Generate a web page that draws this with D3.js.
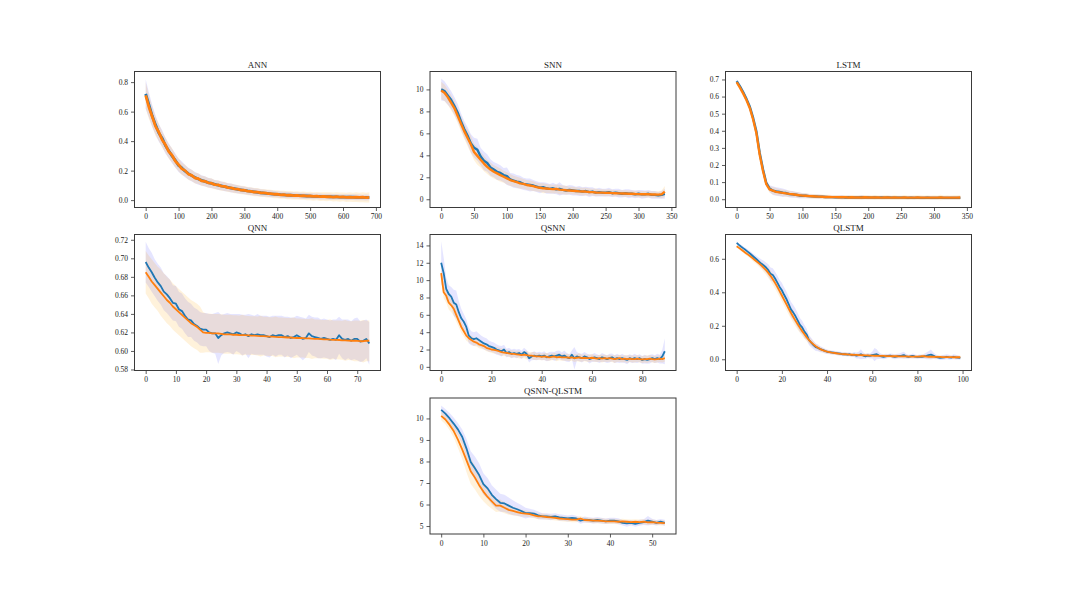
<!DOCTYPE html>
<html>
<head>
<meta charset="utf-8">
<script src="https://cdn.jsdelivr.net/npm/d3@7"></script>
<style>
  body { margin: 0; background: #fff; }
  text { font-family: "Liberation Serif", "DejaVu Serif", serif; }
</style>
</head>
<body>
<script>
// loss curves, blue = one run type, orange = the other, bands = +/- sd

// ANN, one value every 10 epochs
var annBlue = [0.72,0.645,0.57,0.51,0.455,0.42,0.37,0.335,0.30,0.27,
  0.235,0.218,0.196,0.18,0.166,0.153,0.143,0.134,0.127,0.119,
  0.113,0.107,0.101,0.097,0.091,0.087,0.082,0.078,0.073,0.07,
  0.066,0.062,0.059,0.056,0.053,0.05,0.048,0.046,0.043,0.041,
  0.039,0.037,0.036,0.034,0.033,0.032,0.031,0.03,0.029,0.028,
  0.027,0.026,0.026,0.025,0.024,0.024,0.023,0.022,0.022,0.021,
  0.021,0.02,0.02,0.02,0.019,0.019,0.018,0.018,0.018];
var annOrange = [0.71,0.63,0.565,0.5,0.46,0.41,0.375,0.33,0.305,0.265,
  0.24,0.212,0.2,0.176,0.168,0.15,0.146,0.131,0.128,0.117,
  0.115,0.105,0.103,0.095,0.093,0.085,0.083,0.076,0.074,0.068,
  0.067,0.061,0.06,0.055,0.054,0.049,0.049,0.045,0.044,0.04,
  0.04,0.036,0.037,0.033,0.034,0.031,0.032,0.029,0.03,0.027,
  0.028,0.025,0.027,0.024,0.025,0.023,0.024,0.021,0.023,0.02,
  0.022,0.019,0.021,0.019,0.02,0.018,0.02,0.017,0.019];
var annBlueSd = [0.10,0.085,0.075,0.065,0.06,0.055,0.055,0.05,0.05,0.048,
  0.045,0.045,0.042,0.04,0.04,0.038,0.038,0.035,0.035,0.033,
  0.033,0.03,0.032,0.03,0.03,0.028,0.03,0.028,0.028,0.026,
  0.026,0.025,0.026,0.024,0.025,0.024,0.024,0.023,0.024,0.022,
  0.022,0.022,0.021,0.022,0.02,0.021,0.02,0.02,0.021,0.02,
  0.02,0.02,0.019,0.02,0.02,0.019,0.02,0.019,0.02,0.019,
  0.019,0.02,0.019,0.019,0.02,0.019,0.019,0.02,0.019];
var annOrangeSd = [0.09,0.08,0.07,0.065,0.06,0.055,0.05,0.05,0.048,0.045,
  0.045,0.042,0.04,0.04,0.038,0.037,0.036,0.035,0.034,0.033,
  0.033,0.032,0.032,0.031,0.031,0.03,0.03,0.03,0.029,0.029,
  0.029,0.028,0.028,0.028,0.028,0.027,0.027,0.027,0.027,0.027,
  0.027,0.027,0.027,0.027,0.028,0.027,0.028,0.027,0.028,0.028,
  0.028,0.029,0.028,0.03,0.029,0.03,0.029,0.031,0.03,0.031,
  0.03,0.031,0.032,0.031,0.033,0.032,0.034,0.033,0.035];

// SNN, every 5 epochs
var snnBlue = [10.0,9.85,9.45,9.05,8.5,7.9,7.1,6.4,5.8,5.1,
  4.7,4.5,3.9,3.5,3.3,2.9,2.7,2.5,2.4,2.2,
  2.1,1.8,1.7,1.6,1.55,1.4,1.35,1.3,1.25,1.15,
  1.05,1.1,1.0,0.95,1.0,0.9,0.95,0.85,0.8,0.85,
  0.8,0.75,0.75,0.7,0.75,0.65,0.7,0.6,0.65,0.6,
  0.6,0.65,0.55,0.6,0.55,0.5,0.55,0.5,0.5,0.45,
  0.5,0.45,0.45,0.5,0.4,0.4,0.35,0.4,0.5];
var snnOrange = [9.9,9.7,9.3,8.8,8.3,7.6,6.9,6.2,5.6,5.0,
  4.3,3.95,3.6,3.25,2.95,2.7,2.5,2.35,2.2,2.05,
  1.9,1.75,1.65,1.55,1.45,1.4,1.3,1.25,1.2,1.1,
  1.05,1.0,0.98,0.95,0.92,0.95,0.88,0.85,0.82,0.8,
  0.78,0.75,0.72,0.7,0.7,0.66,0.65,0.62,0.6,0.6,
  0.58,0.6,0.56,0.55,0.54,0.52,0.52,0.5,0.5,0.48,
  0.47,0.46,0.45,0.45,0.44,0.43,0.42,0.45,0.7];
var snnBlueSd = [1.0,0.9,0.85,0.8,0.8,0.8,0.75,0.75,0.8,0.85,
  0.9,1.0,0.8,0.85,0.8,0.75,0.7,0.75,0.7,0.65,
  0.8,0.6,0.65,0.6,0.6,0.55,0.55,0.6,0.5,0.5,
  0.5,0.45,0.5,0.45,0.5,0.45,0.6,0.45,0.4,0.45,
  0.45,0.4,0.45,0.4,0.4,0.45,0.4,0.35,0.4,0.35,
  0.35,0.4,0.35,0.35,0.4,0.35,0.35,0.4,0.35,0.35,
  0.35,0.4,0.35,0.35,0.35,0.35,0.3,0.35,0.45];
var snnOrangeSd = [0.8,0.75,0.7,0.7,0.7,0.65,0.7,0.7,0.75,0.8,
  0.75,0.8,0.7,0.7,0.65,0.65,0.6,0.6,0.6,0.55,
  0.55,0.55,0.5,0.5,0.5,0.45,0.45,0.45,0.45,0.4,
  0.4,0.45,0.4,0.4,0.4,0.4,0.45,0.4,0.4,0.35,
  0.35,0.35,0.35,0.35,0.35,0.35,0.3,0.35,0.3,0.3,
  0.3,0.3,0.3,0.3,0.3,0.3,0.3,0.3,0.3,0.3,
  0.3,0.3,0.3,0.3,0.3,0.3,0.3,0.35,0.5];

// LSTM, every 5 epochs
var lstmBlue = [0.69,0.66,0.625,0.585,0.54,0.475,0.395,0.27,0.175,0.095,
  0.062,0.05,0.045,0.042,0.038,0.036,0.03,0.028,0.026,0.022,
  0.02,0.02,0.018,0.017,0.016,0.015,0.014,0.013,0.012,0.012,
  0.011,0.011,0.012,0.01,0.011,0.01,0.01,0.01,0.011,0.01,
  0.01,0.009,0.01,0.009,0.01,0.009,0.01,0.009,0.009,0.009,
  0.009,0.009,0.008,0.009,0.008,0.009,0.008,0.008,0.009,0.008,
  0.008,0.008,0.009,0.008,0.008,0.008,0.008,0.008,0.008];
var lstmOrange = [0.685,0.652,0.617,0.578,0.532,0.466,0.385,0.26,0.165,0.088,
  0.058,0.05,0.043,0.04,0.037,0.034,0.031,0.029,0.026,0.023,
  0.021,0.02,0.018,0.017,0.016,0.015,0.014,0.013,0.013,0.012,
  0.012,0.011,0.011,0.011,0.01,0.011,0.01,0.01,0.01,0.011,
  0.01,0.01,0.01,0.01,0.009,0.01,0.01,0.009,0.01,0.009,
  0.009,0.01,0.009,0.009,0.009,0.01,0.009,0.009,0.009,0.009,
  0.009,0.009,0.01,0.009,0.009,0.009,0.009,0.009,0.01];
var lstmBlueSd = [0.012,0.01,0.01,0.01,0.01,0.01,0.01,0.012,0.012,0.015,
  0.02,0.025,0.025,0.025,0.025,0.02,0.02,0.02,0.018,0.018,
  0.015,0.015,0.012,0.012,0.012,0.012,0.01,0.01,0.01,0.01,
  0.01,0.01,0.012,0.01,0.01,0.01,0.01,0.01,0.012,0.01,
  0.01,0.01,0.01,0.01,0.01,0.01,0.01,0.01,0.01,0.01,
  0.01,0.01,0.01,0.01,0.01,0.01,0.01,0.01,0.01,0.01,
  0.01,0.01,0.01,0.01,0.01,0.01,0.01,0.01,0.01];
var lstmOrangeSd = [0.01,0.01,0.01,0.01,0.01,0.01,0.01,0.012,0.012,0.015,
  0.02,0.022,0.022,0.02,0.02,0.02,0.018,0.018,0.016,0.016,
  0.015,0.015,0.014,0.014,0.014,0.014,0.014,0.013,0.013,0.013,
  0.013,0.013,0.014,0.013,0.013,0.013,0.013,0.013,0.014,0.013,
  0.013,0.013,0.014,0.013,0.013,0.014,0.013,0.013,0.014,0.013,
  0.013,0.014,0.013,0.013,0.014,0.013,0.014,0.013,0.014,0.013,
  0.014,0.013,0.016,0.013,0.014,0.013,0.014,0.014,0.014];

// QNN, every epoch
var qnnBlue = [0.696,0.690,0.685,0.679,0.674,0.670,0.664,0.661,0.657,0.652,
  0.651,0.645,0.643,0.638,0.634,0.633,0.629,0.627,0.624,0.623,
  0.623,0.620,0.619,0.619,0.614,0.617,0.619,0.620,0.619,0.618,
  0.620,0.619,0.617,0.618,0.616,0.618,0.617,0.618,0.617,0.617,
  0.616,0.615,0.617,0.616,0.617,0.617,0.615,0.616,0.614,0.615,
  0.617,0.615,0.613,0.614,0.619,0.616,0.615,0.614,0.613,0.614,
  0.613,0.612,0.613,0.612,0.617,0.613,0.612,0.613,0.611,0.613,
  0.613,0.610,0.611,0.613,0.608];
var qnnOrange = [0.685,0.680,0.675,0.671,0.667,0.663,0.659,0.655,0.652,0.648,
  0.645,0.642,0.639,0.636,0.633,0.630,0.628,0.626,0.623,0.620,
  0.6195,0.6195,0.619,0.619,0.619,0.6185,0.618,0.618,0.618,0.6175,
  0.6175,0.6172,0.617,0.617,0.6168,0.6165,0.6165,0.6162,0.616,0.616,
  0.6158,0.6155,0.6155,0.6152,0.615,0.615,0.6148,0.6145,0.6145,0.6142,
  0.614,0.614,0.6138,0.6135,0.6135,0.6132,0.613,0.613,0.6128,0.6125,
  0.6125,0.6122,0.612,0.612,0.6118,0.6115,0.6115,0.6112,0.611,0.611,
  0.6108,0.6105,0.6105,0.611,0.611];
var qnnBlueSd = [0.022,0.021,0.021,0.02,0.02,0.02,0.02,0.02,0.02,0.019,
  0.019,0.019,0.019,0.019,0.019,0.018,0.018,0.018,0.018,0.018,
  0.018,0.02,0.021,0.022,0.028,0.022,0.021,0.021,0.021,0.022,
  0.02,0.021,0.022,0.021,0.024,0.021,0.021,0.022,0.021,0.021,
  0.022,0.022,0.021,0.022,0.021,0.021,0.022,0.021,0.022,0.021,
  0.021,0.022,0.023,0.021,0.02,0.021,0.021,0.022,0.021,0.021,
  0.021,0.021,0.021,0.022,0.02,0.021,0.022,0.021,0.021,0.022,
  0.023,0.022,0.022,0.021,0.023];
var qnnOrangeSd = [0.023,0.023,0.024,0.024,0.024,0.025,0.025,0.025,0.025,0.025,
  0.025,0.025,0.025,0.025,0.025,0.025,0.025,0.025,0.025,0.022,
  0.021,0.021,0.021,0.021,0.021,0.021,0.021,0.021,0.021,0.021,
  0.021,0.021,0.022,0.021,0.021,0.021,0.021,0.021,0.022,0.021,
  0.021,0.021,0.021,0.022,0.021,0.021,0.021,0.021,0.021,0.022,
  0.021,0.021,0.021,0.021,0.021,0.022,0.021,0.021,0.021,0.021,
  0.021,0.022,0.021,0.021,0.021,0.021,0.022,0.021,0.021,0.022,
  0.022,0.022,0.023,0.022,0.022];

// QSNN, every epoch
var qsnnBlue = [12.0,10.8,9.0,8.4,8.1,7.4,7.2,6.3,5.6,5.2,
  4.6,3.6,3.3,3.2,3.3,3.1,2.9,2.7,2.6,2.4,
  2.3,2.2,2.0,1.9,1.8,2.0,1.6,1.7,1.5,1.6,
  1.5,1.6,1.4,1.7,1.5,1.0,1.2,1.3,1.2,1.3,
  1.2,1.3,1.1,1.2,1.3,1.2,1.3,1.4,1.2,1.3,
  1.1,1.0,1.4,1.0,1.2,1.1,1.0,1.2,1.1,0.9,
  1.0,1.1,1.0,0.9,1.1,1.0,0.9,1.0,1.1,0.9,
  1.0,0.9,1.0,0.9,0.8,1.0,0.9,1.0,0.9,1.0,
  0.8,0.9,0.8,0.9,1.0,0.9,1.0,0.9,1.2,1.8];
var qsnnOrange = [10.8,8.6,8.2,7.4,7.1,6.7,6.0,5.3,4.6,4.1,
  3.6,3.3,3.1,2.9,2.8,2.6,2.5,2.4,2.2,2.1,
  2.0,1.95,1.9,1.8,1.7,1.65,1.6,1.55,1.5,1.5,
  1.45,1.4,1.35,1.4,1.35,1.3,1.3,1.25,1.2,1.2,
  1.15,1.2,1.15,1.1,1.15,1.2,1.1,1.15,1.1,1.1,
  1.1,1.05,1.1,1.0,1.05,1.1,1.0,1.05,1.0,1.0,
  1.05,1.0,0.95,1.0,0.95,1.0,0.95,1.0,0.95,0.9,
  0.95,1.0,0.9,0.95,0.9,0.95,0.9,0.9,0.95,0.9,
  0.85,0.9,0.9,0.95,0.9,0.85,0.9,0.95,0.9,1.0];
var qsnnBlueSd = [2.5,1.8,1.3,1.0,1.1,1.5,1.6,1.3,1.1,0.9,
  0.9,0.9,0.8,0.8,0.8,0.75,0.7,0.7,0.7,0.65,
  0.6,0.6,0.6,0.55,0.6,0.55,0.5,0.5,0.5,0.5,
  0.5,0.45,0.5,0.5,0.45,0.5,0.45,0.5,0.45,0.45,
  0.45,0.5,0.45,0.5,0.45,0.5,0.55,0.5,0.45,0.6,
  0.5,0.45,0.5,1.3,0.5,0.45,0.5,0.5,0.45,0.5,
  0.45,0.5,0.45,0.45,0.5,0.45,0.45,0.5,0.45,0.45,
  0.5,0.45,0.5,0.45,0.5,0.45,0.45,0.5,0.45,0.45,
  0.45,0.5,0.45,0.5,0.45,0.45,0.5,0.5,0.8,1.5];
var qsnnOrangeSd = [0.8,0.7,0.8,0.8,0.8,0.8,0.8,0.7,0.7,0.6,
  0.6,0.5,0.5,0.5,0.45,0.45,0.45,0.4,0.4,0.4,
  0.4,0.4,0.4,0.4,0.45,0.4,0.4,0.4,0.45,0.4,
  0.4,0.45,0.4,0.4,0.5,0.4,0.4,0.45,0.4,0.4,
  0.4,0.4,0.45,0.4,0.4,0.4,0.45,0.4,0.4,0.4,
  0.4,0.4,0.4,0.45,0.4,0.5,0.4,0.4,0.4,0.45,
  0.4,0.4,0.4,0.4,0.45,0.4,0.4,0.4,0.4,0.45,
  0.4,0.4,0.4,0.4,0.45,0.4,0.4,0.4,0.4,0.4,
  0.4,0.4,0.45,0.4,0.4,0.4,0.4,0.4,0.4,0.4];

// QLSTM, every epoch
var qlstmBlue = [0.695,0.683,0.672,0.662,0.652,0.641,0.630,0.618,0.606,0.594,
  0.582,0.570,0.560,0.548,0.532,0.510,0.503,0.482,0.458,0.432,
  0.412,0.385,0.360,0.330,0.298,0.280,0.258,0.232,0.205,0.190,
  0.165,0.148,0.115,0.100,0.085,0.072,0.068,0.060,0.056,0.050,
  0.045,0.043,0.041,0.039,0.037,0.035,0.033,0.030,0.031,0.028,
  0.030,0.025,0.028,0.022,0.025,0.030,0.022,0.018,0.022,0.020,
  0.025,0.028,0.030,0.022,0.018,0.015,0.018,0.020,0.022,0.018,
  0.015,0.018,0.020,0.022,0.025,0.018,0.015,0.018,0.020,0.016,
  0.014,0.016,0.015,0.018,0.020,0.025,0.028,0.022,0.015,0.012,
  0.008,0.010,0.012,0.015,0.012,0.010,0.015,0.012,0.010,0.008];
var qlstmOrange = [0.675,0.665,0.655,0.645,0.635,0.625,0.615,0.604,0.593,0.582,
  0.571,0.559,0.546,0.532,0.516,0.498,0.478,0.456,0.432,0.407,
  0.381,0.355,0.329,0.303,0.278,0.254,0.231,0.209,0.188,0.168,
  0.149,0.131,0.115,0.101,0.089,0.078,0.069,0.061,0.055,0.050,
  0.046,0.043,0.040,0.038,0.036,0.034,0.032,0.031,0.030,0.029,
  0.028,0.027,0.026,0.026,0.025,0.025,0.024,0.023,0.023,0.022,
  0.022,0.021,0.021,0.020,0.020,0.020,0.019,0.019,0.019,0.018,
  0.018,0.018,0.017,0.017,0.017,0.017,0.016,0.016,0.016,0.016,
  0.016,0.016,0.018,0.018,0.016,0.015,0.015,0.015,0.014,0.014,
  0.014,0.013,0.013,0.013,0.013,0.013,0.012,0.012,0.012,0.012];
var qlstmBlueSd = [0.01,0.01,0.01,0.012,0.012,0.014,0.015,0.016,0.018,0.02,
  0.022,0.025,0.028,0.03,0.035,0.038,0.04,0.04,0.042,0.042,
  0.045,0.045,0.045,0.045,0.045,0.045,0.045,0.045,0.042,0.04,
  0.04,0.035,0.03,0.028,0.025,0.022,0.02,0.018,0.016,0.015,
  0.014,0.013,0.012,0.012,0.012,0.012,0.012,0.012,0.012,0.012,
  0.012,0.012,0.015,0.018,0.02,0.03,0.02,0.015,0.015,0.015,
  0.02,0.04,0.03,0.02,0.015,0.015,0.015,0.012,0.012,0.015,
  0.015,0.015,0.015,0.018,0.02,0.015,0.012,0.012,0.015,0.012,
  0.012,0.012,0.012,0.015,0.02,0.025,0.03,0.02,0.015,0.012,
  0.012,0.015,0.015,0.015,0.015,0.012,0.015,0.015,0.012,0.012];
var qlstmOrangeSd = [0.008,0.008,0.01,0.01,0.012,0.012,0.014,0.015,0.016,0.018,
  0.02,0.022,0.025,0.028,0.03,0.032,0.034,0.035,0.035,0.035,
  0.035,0.035,0.035,0.035,0.035,0.035,0.034,0.033,0.03,0.028,
  0.026,0.024,0.022,0.02,0.018,0.016,0.015,0.014,0.013,0.012,
  0.011,0.011,0.01,0.01,0.01,0.01,0.01,0.01,0.01,0.01,
  0.01,0.01,0.01,0.01,0.011,0.01,0.01,0.01,0.01,0.01,
  0.01,0.012,0.01,0.01,0.01,0.01,0.01,0.01,0.01,0.01,
  0.01,0.01,0.01,0.01,0.012,0.01,0.01,0.01,0.01,0.01,
  0.01,0.01,0.01,0.01,0.01,0.012,0.012,0.01,0.01,0.01,
  0.01,0.01,0.01,0.01,0.01,0.01,0.01,0.01,0.01,0.01];

// QSNN-QLSTM, every epoch
var hybBlue = [10.40,10.22,10.0,9.75,9.48,9.14,8.6,7.98,7.68,7.37,
  6.95,6.75,6.45,6.25,6.08,6.05,5.95,5.85,5.78,5.7,
  5.6,5.6,5.58,5.5,5.45,5.45,5.42,5.45,5.4,5.38,
  5.35,5.38,5.35,5.25,5.3,5.28,5.25,5.28,5.25,5.22,
  5.25,5.25,5.22,5.15,5.12,5.15,5.1,5.15,5.18,5.25,
  5.2,5.15,5.2,5.15];
var hybOrange = [10.12,9.95,9.7,9.4,9.0,8.55,8.05,7.55,7.25,6.9,
  6.6,6.35,6.15,5.95,5.95,5.85,5.75,5.7,5.65,5.6,
  5.58,5.55,5.5,5.45,5.45,5.42,5.4,5.38,5.35,5.33,
  5.32,5.3,5.3,5.35,5.28,5.27,5.25,5.25,5.24,5.22,
  5.22,5.22,5.2,5.22,5.2,5.18,5.2,5.18,5.2,5.17,
  5.18,5.16,5.15,5.14];
var hybBlueSd = [0.2,0.22,0.25,0.28,0.3,0.35,0.45,0.5,0.55,0.55,
  0.5,0.48,0.45,0.45,0.42,0.4,0.38,0.35,0.3,0.28,
  0.25,0.2,0.18,0.18,0.15,0.15,0.15,0.14,0.15,0.14,
  0.14,0.14,0.13,0.14,0.14,0.13,0.13,0.14,0.13,0.13,
  0.13,0.13,0.14,0.13,0.15,0.13,0.13,0.14,0.13,0.22,
  0.14,0.13,0.13,0.14];
var hybOrangeSd = [0.2,0.22,0.25,0.3,0.38,0.45,0.55,0.6,0.55,0.5,
  0.45,0.4,0.35,0.3,0.28,0.25,0.22,0.2,0.18,0.16,
  0.15,0.14,0.14,0.13,0.13,0.13,0.12,0.12,0.12,0.12,
  0.12,0.12,0.12,0.12,0.12,0.12,0.12,0.12,0.12,0.12,
  0.12,0.12,0.12,0.12,0.12,0.12,0.12,0.12,0.12,0.12,
  0.12,0.12,0.12,0.12];

// tick labels
var annXTicks = [0,100,200,300,400,500,600,700],    annYTicks = [0,0.2,0.4,0.6,0.8];
var snnXTicks = [0,50,100,150,200,250,300,350],     snnYTicks = [0,2,4,6,8,10];
var lstmXTicks = [0,50,100,150,200,250,300,350],    lstmYTicks = [0,0.1,0.2,0.3,0.4,0.5,0.6,0.7];
var qnnXTicks = [0,10,20,30,40,50,60,70],           qnnYTicks = [0.58,0.60,0.62,0.64,0.66,0.68,0.70,0.72];
var qsnnXTicks = [0,20,40,60,80],                   qsnnYTicks = [0,2,4,6,8,10,12,14];
var qlstmXTicks = [0,20,40,60,80,100],              qlstmYTicks = [0,0.2,0.4,0.6];
var hybXTicks = [0,10,20,30,40,50],                 hybYTicks = [5,6,7,8,9,10];

var panels = [
  {title: "ANN", step: 10, blue: annBlue, orange: annOrange, blueSd: annBlueSd, orangeSd: annOrangeSd,
   col: 0, row: 0, yDomain: [-0.05, 0.872], xTicks: annXTicks, yTicks: annYTicks, fmt: ".1f", lw: 2.8},
  {title: "SNN", step: 5, blue: snnBlue, orange: snnOrange, blueSd: snnBlueSd, orangeSd: snnOrangeSd,
   col: 1, row: 0, yDomain: [-0.75, 11.63], xTicks: snnXTicks, yTicks: snnYTicks, fmt: "d", lw: 2.4},
  {title: "LSTM", step: 5, blue: lstmBlue, orange: lstmOrange, blueSd: lstmBlueSd, orangeSd: lstmOrangeSd,
   col: 2, row: 0, yDomain: [-0.0485, 0.7465], xTicks: lstmXTicks, yTicks: lstmYTicks, fmt: ".1f", lw: 2.4},
  {title: "QNN", step: 1, blue: qnnBlue, orange: qnnOrange, blueSd: qnnBlueSd, orangeSd: qnnOrangeSd,
   col: 0, row: 1, yDomain: [0.5789, 0.7257], xTicks: qnnXTicks, yTicks: qnnYTicks, fmt: ".2f", lw: 1.8},
  {title: "QSNN", step: 1, blue: qsnnBlue, orange: qsnnOrange, blueSd: qsnnBlueSd, orangeSd: qsnnOrangeSd,
   col: 1, row: 1, yDomain: [-0.42, 15.26], xTicks: qsnnXTicks, yTicks: qsnnYTicks, fmt: "d", lw: 1.8},
  {title: "QLSTM", step: 1, blue: qlstmBlue, orange: qlstmOrange, blueSd: qlstmBlueSd, orangeSd: qlstmOrangeSd,
   col: 2, row: 1, yDomain: [-0.067, 0.745], xTicks: qlstmXTicks, yTicks: qlstmYTicks, fmt: ".1f", lw: 1.8},
  {title: "QSNN-QLSTM", step: 1, blue: hybBlue, orange: hybOrange, blueSd: hybBlueSd, orangeSd: hybOrangeSd,
   col: 1, row: 2, yDomain: [4.63, 10.95], xTicks: hybXTicks, yTicks: hybYTicks, fmt: "d", lw: 1.8}
];

var colLeft = [134.5, 430, 725.5],
    rowTop = [71.5, 234.5, 398],
    boxW = 246, boxH = 136;

var svg = d3.select("body").append("svg")
    .attr("width", 1080)
    .attr("height", 600)
    .style("background", "#fff");

panels.forEach(function(p, k) {
  var x0 = colLeft[p.col], y0 = rowTop[p.row];
  var n = p.blue.length,
      xMax = (n - 1) * p.step;

  var g = svg.append("g").attr("transform", `translate(${x0}, ${y0})`);

  var x = d3.scaleLinear().domain([-0.05 * xMax, 1.05 * xMax]).range([0, boxW]),
      y = d3.scaleLinear().domain(p.yDomain).range([boxH, 0]);

  g.append("clipPath").attr("id", "clip" + k)
    .append("rect").attr("width", boxW).attr("height", boxH);

  var plot = g.append("g").attr("clip-path", `url(#clip${k})`);

  var band = function(mean, sd) {
    return d3.area()
      .x((d, i) => x(i * p.step))
      .y0((d, i) => y(d - sd[i]))
      .y1((d, i) => y(d + sd[i]))(mean);
  };
  var line = d3.line().x((d, i) => x(i * p.step)).y(d => y(d));

  plot.append("path").attr("d", band(p.blue, p.blueSd))
    .attr("fill", "blue").attr("fill-opacity", 0.1);
  plot.append("path").attr("d", band(p.orange, p.orangeSd))
    .attr("fill", "orange").attr("fill-opacity", 0.14);
  plot.append("path").attr("d", line(p.blue))
    .attr("fill", "none").attr("stroke", "#1f77b4").attr("stroke-width", p.lw)
    .attr("stroke-linejoin", "round");
  plot.append("path").attr("d", line(p.orange))
    .attr("fill", "none").attr("stroke", "#ff7f0e").attr("stroke-width", p.lw)
    .attr("stroke-linejoin", "round");

  // axes
  var gx = g.append("g").attr("transform", `translate(0, ${boxH})`)
    .call(d3.axisBottom(x).tickValues(p.xTicks).tickSizeInner(3.5).tickSizeOuter(0).tickPadding(3));
  var gy = g.append("g")
    .call(d3.axisLeft(y).tickValues(p.yTicks).tickFormat(d3.format(p.fmt)).tickSizeInner(3.5).tickSizeOuter(0).tickPadding(3));
  [gx, gy].forEach(function(a) {
    a.select(".domain").remove();
    a.selectAll(".tick line").attr("stroke", "#333").attr("stroke-width", 0.8);
    a.selectAll(".tick text").attr("fill", "#222")
      .style("font-family", '"Liberation Serif", "DejaVu Serif", serif')
      .style("font-size", "7.5px");
  });

  g.append("rect")
    .attr("width", boxW).attr("height", boxH)
    .attr("fill", "none").attr("stroke", "#3a3a3a").attr("stroke-width", 1);

  g.append("text")
    .attr("x", boxW / 2).attr("y", -4)
    .attr("text-anchor", "middle")
    .attr("fill", "#222")
    .style("font-size", "9px")
    .text(p.title);
});
</script>
</body>
</html>
